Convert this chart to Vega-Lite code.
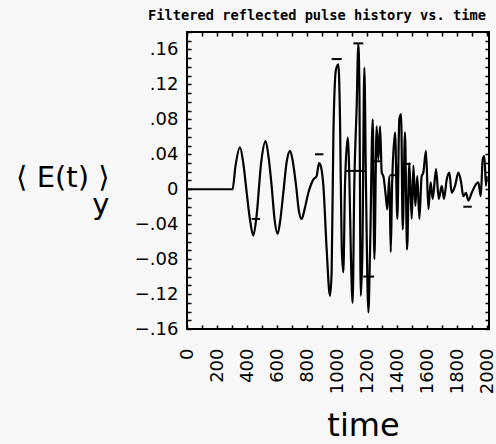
{
 "$schema": "https://vega.github.io/schema/vega-lite/v6.json",
 "autosize": "none",
 "width": 302, "height": 297,
 "padding": {"left": 187, "top": 32, "right": 7, "bottom": 115},
 "background": "#f8f8f8",
 "title": {"text": "Filtered reflected pulse history vs. time", "font": "DejaVu Sans Mono", "fontSize": 13.7, "fontWeight": "bold", "color": "black", "anchor": "middle", "dx": -21, "dy": 24, "offset": 13, "baseline": "alphabetic"},
 "config": {"view": {"stroke": "black", "strokeWidth": 2}},
 "datasets": {
  "signal": [
   {"t": 0, "v": 0}, {"t": 304, "v": 0}, {"t": 322, "v": 0.025}, {"t": 353, "v": 0.048}, {"t": 375, "v": 0.030}, {"t": 398, "v": -0.004}, {"t": 420, "v": -0.035}, {"t": 442, "v": -0.053}, {"t": 464, "v": -0.030},
   {"t": 494, "v": 0.030}, {"t": 524, "v": 0.055}, {"t": 545, "v": 0.035}, {"t": 564, "v": 0.004}, {"t": 584, "v": -0.035}, {"t": 604, "v": -0.051}, {"t": 622, "v": -0.035}, {"t": 642, "v": -0.004}, {"t": 665, "v": 0.032}, {"t": 687, "v": 0.044}, {"t": 707, "v": 0.030}, {"t": 727, "v": 0.004},
   {"t": 746, "v": -0.025}, {"t": 764, "v": -0.034}, {"t": 785, "v": -0.022}, {"t": 809, "v": -0.004}, {"t": 842, "v": 0.011}, {"t": 864, "v": 0.015}, {"t": 880, "v": 0.030}, {"t": 891, "v": 0.027},
   {"t": 909, "v": 0.004}, {"t": 931, "v": -0.069}, {"t": 953, "v": -0.122}, {"t": 964, "v": -0.095}, {"t": 976, "v": 0.065}, {"t": 993, "v": 0.137},
   {"t": 1009, "v": 0.143}, {"t": 1020, "v": 0.080}, {"t": 1031, "v": -0.065}, {"t": 1042, "v": -0.095}, {"t": 1053, "v": 0.004}, {"t": 1071, "v": 0.059},
   {"t": 1082, "v": 0.015}, {"t": 1093, "v": -0.080}, {"t": 1104, "v": -0.130}, {"t": 1115, "v": 0.004}, {"t": 1131, "v": 0.095}, {"t": 1142, "v": 0.166},
   {"t": 1149, "v": 0.118}, {"t": 1158, "v": -0.122}, {"t": 1169, "v": -0.072}, {"t": 1182, "v": 0.139}, {"t": 1193, "v": 0.004}, {"t": 1209, "v": -0.141},
   {"t": 1220, "v": -0.072}, {"t": 1238, "v": 0.080}, {"t": 1249, "v": -0.080}, {"t": 1264, "v": 0.072}, {"t": 1275, "v": 0.034}, {"t": 1287, "v": 0.072},
   {"t": 1298, "v": 0.019}, {"t": 1309, "v": 0.015}, {"t": 1327, "v": -0.011}, {"t": 1335, "v": -0.023}, {"t": 1349, "v": 0.015}, {"t": 1358, "v": -0.072},
   {"t": 1367, "v": 0.004}, {"t": 1387, "v": 0.065}, {"t": 1402, "v": -0.034}, {"t": 1415, "v": 0.080}, {"t": 1427, "v": 0.086}, {"t": 1438, "v": -0.046},
   {"t": 1453, "v": 0.065}, {"t": 1467, "v": -0.069}, {"t": 1482, "v": 0.030}, {"t": 1498, "v": -0.034}, {"t": 1509, "v": 0.027}, {"t": 1522, "v": -0.019},
   {"t": 1535, "v": 0.015}, {"t": 1549, "v": -0.034}, {"t": 1564, "v": 0.015}, {"t": 1575, "v": 0.019}, {"t": 1593, "v": 0.044}, {"t": 1609, "v": -0.023},
   {"t": 1624, "v": 0.008}, {"t": 1638, "v": -0.011}, {"t": 1660, "v": 0.023}, {"t": 1678, "v": -0.011}, {"t": 1698, "v": 0.004}, {"t": 1713, "v": -0.011},
   {"t": 1731, "v": 0.011}, {"t": 1749, "v": 0.019}, {"t": 1764, "v": -0.004}, {"t": 1787, "v": 0.004}, {"t": 1809, "v": 0.019}, {"t": 1827, "v": 0.008},
   {"t": 1842, "v": -0.008}, {"t": 1860, "v": -0.004}, {"t": 1875, "v": -0.013}, {"t": 1898, "v": -0.004}, {"t": 1920, "v": 0.004}, {"t": 1942, "v": 0.008},
   {"t": 1958, "v": -0.008}, {"t": 1971, "v": 0.034}, {"t": 1982, "v": 0.038}, {"t": 1993, "v": 0.004}, {"t": 1998, "v": 0.015}
  ],
  "dashes": [
   {"t1": 431, "t2": 487, "v": -0.034}, {"t1": 853, "t2": 909, "v": 0.040}, {"t1": 964, "t2": 1031, "v": 0.149},
   {"t1": 1109, "t2": 1175, "v": 0.167}, {"t1": 1053, "t2": 1187, "v": 0.021}, {"t1": 1175, "t2": 1247, "v": -0.100},
   {"t1": 1238, "t2": 1287, "v": 0.032}, {"t1": 1353, "t2": 1402, "v": 0.016}, {"t1": 1438, "t2": 1491, "v": 0.029},
   {"t1": 1842, "t2": 1898, "v": -0.020}
  ]
 },
 "layer": [
  {
   "data": {"name": "signal"},
   "mark": {"type": "line", "color": "black", "strokeWidth": 2.2, "interpolate": "monotone"},
   "encoding": {
    "x": {"field": "t", "type": "quantitative", "scale": {"domain": [0, 2013], "nice": false, "zero": false},
     "axis": {"orient": "bottom", "values": [0,100,200,300,400,500,600,700,800,900,1000,1100,1200,1300,1400,1500,1600,1700,1800,1900,2000],
      "format": "d", "labelExpr": "datum.value % 200 == 0 ? datum.label : ''", "labelAngle": 270, "labelFlush": false, "labelOverlap": false,
      "labelFont": "DejaVu Sans", "labelFontSize": 18, "labelColor": "black", "labelPadding": 23,
      "tickSize": -4, "tickColor": "black", "tickWidth": 1.5, "domain": false, "grid": false,
      "title": "time", "titleFont": "DejaVu Sans", "titleFontSize": 32, "titleFontWeight": "normal", "titleColor": "black",
      "titleX": 176, "titleY": 106, "titleBaseline": "alphabetic", "titleAlign": "center"}},
    "y": {"field": "v", "type": "quantitative", "scale": {"domain": [-0.16, 0.18], "nice": false, "zero": false},
     "axis": {"orient": "left", "values": [-0.16,-0.15,-0.14,-0.13,-0.12,-0.11,-0.1,-0.09,-0.08,-0.07,-0.06,-0.05,-0.04,-0.03,-0.02,-0.01,0,0.01,0.02,0.03,0.04,0.05,0.06,0.07,0.08,0.09,0.1,0.11,0.12,0.13,0.14,0.15,0.16,0.17,0.18],
      "labelExpr": "round(datum.value*100) % 4 != 0 ? '' : (round(datum.value*100) == 0 ? '0' : replace(format(datum.value, '.2f'), '0.', '.'))",
      "labelOverlap": false, "labelFlush": false, "labelFont": "DejaVu Sans", "labelFontSize": 18, "labelColor": "black", "labelPadding": 13,
      "tickSize": -4, "tickColor": "black", "tickWidth": 1.5, "domain": false, "grid": false,
      "title": ["⟨ E(t) ⟩", "y"], "titleFont": "DejaVu Sans", "titleFontSize": 29, "titleFontWeight": "normal", "titleColor": "black",
      "titleAngle": 0, "titleAlign": "right", "titleBaseline": "alphabetic", "titleX": -78, "titleY": 154, "titleLineHeight": 27}}
   }
  },
  {
   "data": {"name": "dashes"},
   "mark": {"type": "rule", "color": "black", "strokeWidth": 2},
   "encoding": {
    "x": {"field": "t1", "type": "quantitative",
     "axis": {"orient": "top", "values": [0,100,200,300,400,500,600,700,800,900,1000,1100,1200,1300,1400,1500,1600,1700,1800,1900,2000],
      "labels": false, "tickSize": -4, "tickColor": "black", "tickWidth": 1.5, "domain": false, "grid": false, "title": null, "minExtent": 0, "maxExtent": 0}},
    "x2": {"field": "t2"},
    "y": {"field": "v", "type": "quantitative",
     "axis": {"orient": "right", "values": [-0.16,-0.15,-0.14,-0.13,-0.12,-0.11,-0.1,-0.09,-0.08,-0.07,-0.06,-0.05,-0.04,-0.03,-0.02,-0.01,0,0.01,0.02,0.03,0.04,0.05,0.06,0.07,0.08,0.09,0.1,0.11,0.12,0.13,0.14,0.15,0.16,0.17,0.18],
      "labels": false, "tickSize": -4, "tickColor": "black", "tickWidth": 1.5, "domain": false, "grid": false, "title": null, "minExtent": 0, "maxExtent": 0}}
   }
  }
 ],
 "resolve": {"axis": {"x": "independent", "y": "independent"}}
}
